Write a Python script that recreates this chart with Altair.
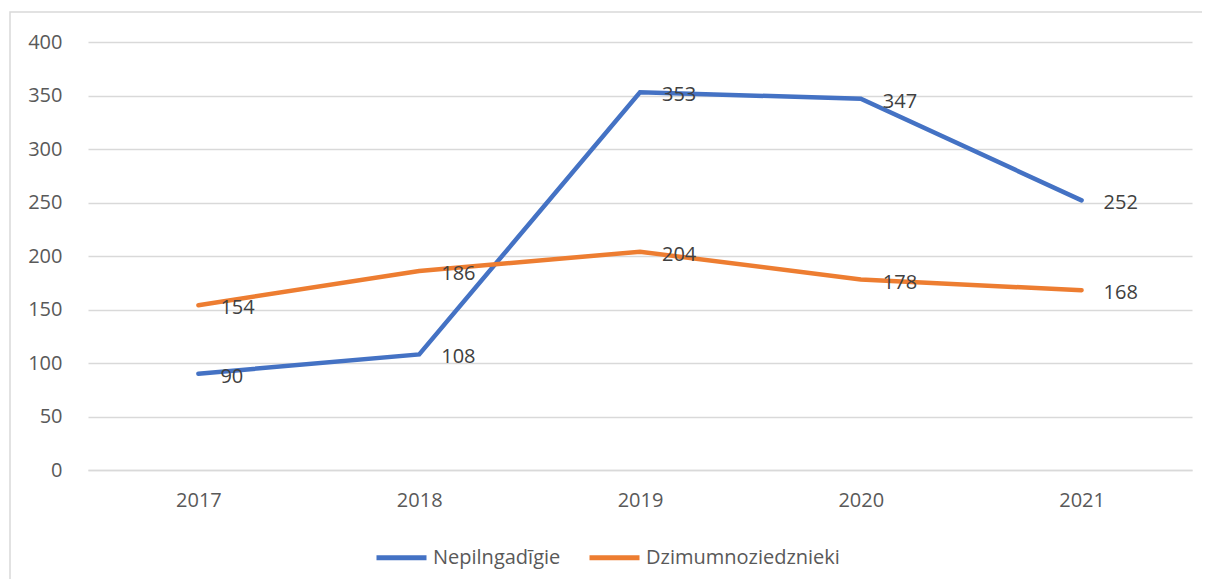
import altair as alt
import pandas as pd

years = ["2017", "2018", "2019", "2020", "2021"]
nepilngadigie = [90, 108, 353, 347, 252]
dzimumnoziedznieki = [154, 186, 204, 178, 168]
series_names = ["Nepilngadīgie", "Dzimumnoziedznieki"]
series_colors = ["#4472C4", "#ED7D31"]
y_ticks = [0, 50, 100, 150, 200, 250, 300, 350, 400]

rows = []
for y, v in zip(years, nepilngadigie):
    rows.append({"year": y, "value": v, "series": series_names[0]})
for y, v in zip(years, dzimumnoziedznieki):
    rows.append({"year": y, "value": v, "series": series_names[1]})
df = pd.DataFrame(rows)

FONT = "Open Sans"

x_enc = alt.X("year:O", scale=alt.Scale(type="point", padding=0.5),
              axis=alt.Axis(title=None, labelAngle=0, ticks=False, domain=True,
                            domainColor="#d9d9d9", domainWidth=1.5,
                            labelPadding=20, labelFontSize=20, labelColor="#595959",
                            labelFont=FONT))
y_enc = alt.Y("value:Q", scale=alt.Scale(domain=[0, 400], nice=False),
              axis=alt.Axis(title=None, values=y_ticks, ticks=False, domain=False,
                            gridColor="#d9d9d9", gridWidth=1.5, labelPadding=26,
                            labelFontSize=20, labelColor="#595959", labelFont=FONT))
color_enc = alt.Color("series:N", sort=series_names,
                      scale=alt.Scale(domain=series_names, range=series_colors),
                      legend=alt.Legend(title=None, orient="none", direction="horizontal",
                                        legendX=286, legendY=488,
                                        symbolType="stroke", symbolSize=2500,
                                        symbolStrokeWidth=5, labelFontSize=20,
                                        labelColor="#595959", labelFont=FONT,
                                        labelLimit=400,
                                        columnPadding=18, labelOffset=4))

base = alt.Chart(df).encode(x=x_enc, y=y_enc)
lines = base.mark_line(strokeWidth=4.5, strokeCap="round").encode(
    color=color_enc, detail="series:N")
labels = base.mark_text(align="left", baseline="middle", dx=22, dy=3,
                        fontSize=20, color="#404040", font=FONT).encode(
    text="value:Q")

frame = alt.Chart(pd.DataFrame({"a": [0]})).mark_rect(
    fill=None, stroke="#d9d9d9", strokeWidth=1.5).encode(
    x=alt.value(-78), x2=alt.value(1120), y=alt.value(-30), y2=alt.value(600))

chart = alt.layer(frame, lines, labels).properties(
    width=1104, height=428,
    padding={"left": 80, "top": 34, "right": 10, "bottom": 109},
    autosize=alt.AutoSizeParams(type="none"),
).configure_view(stroke=None).configure_axis(
    labelFontSize=20, labelFont=FONT, labelColor="#595959")

chart.save("out.html", embed_options={"renderer": "svg", "actions": False})
